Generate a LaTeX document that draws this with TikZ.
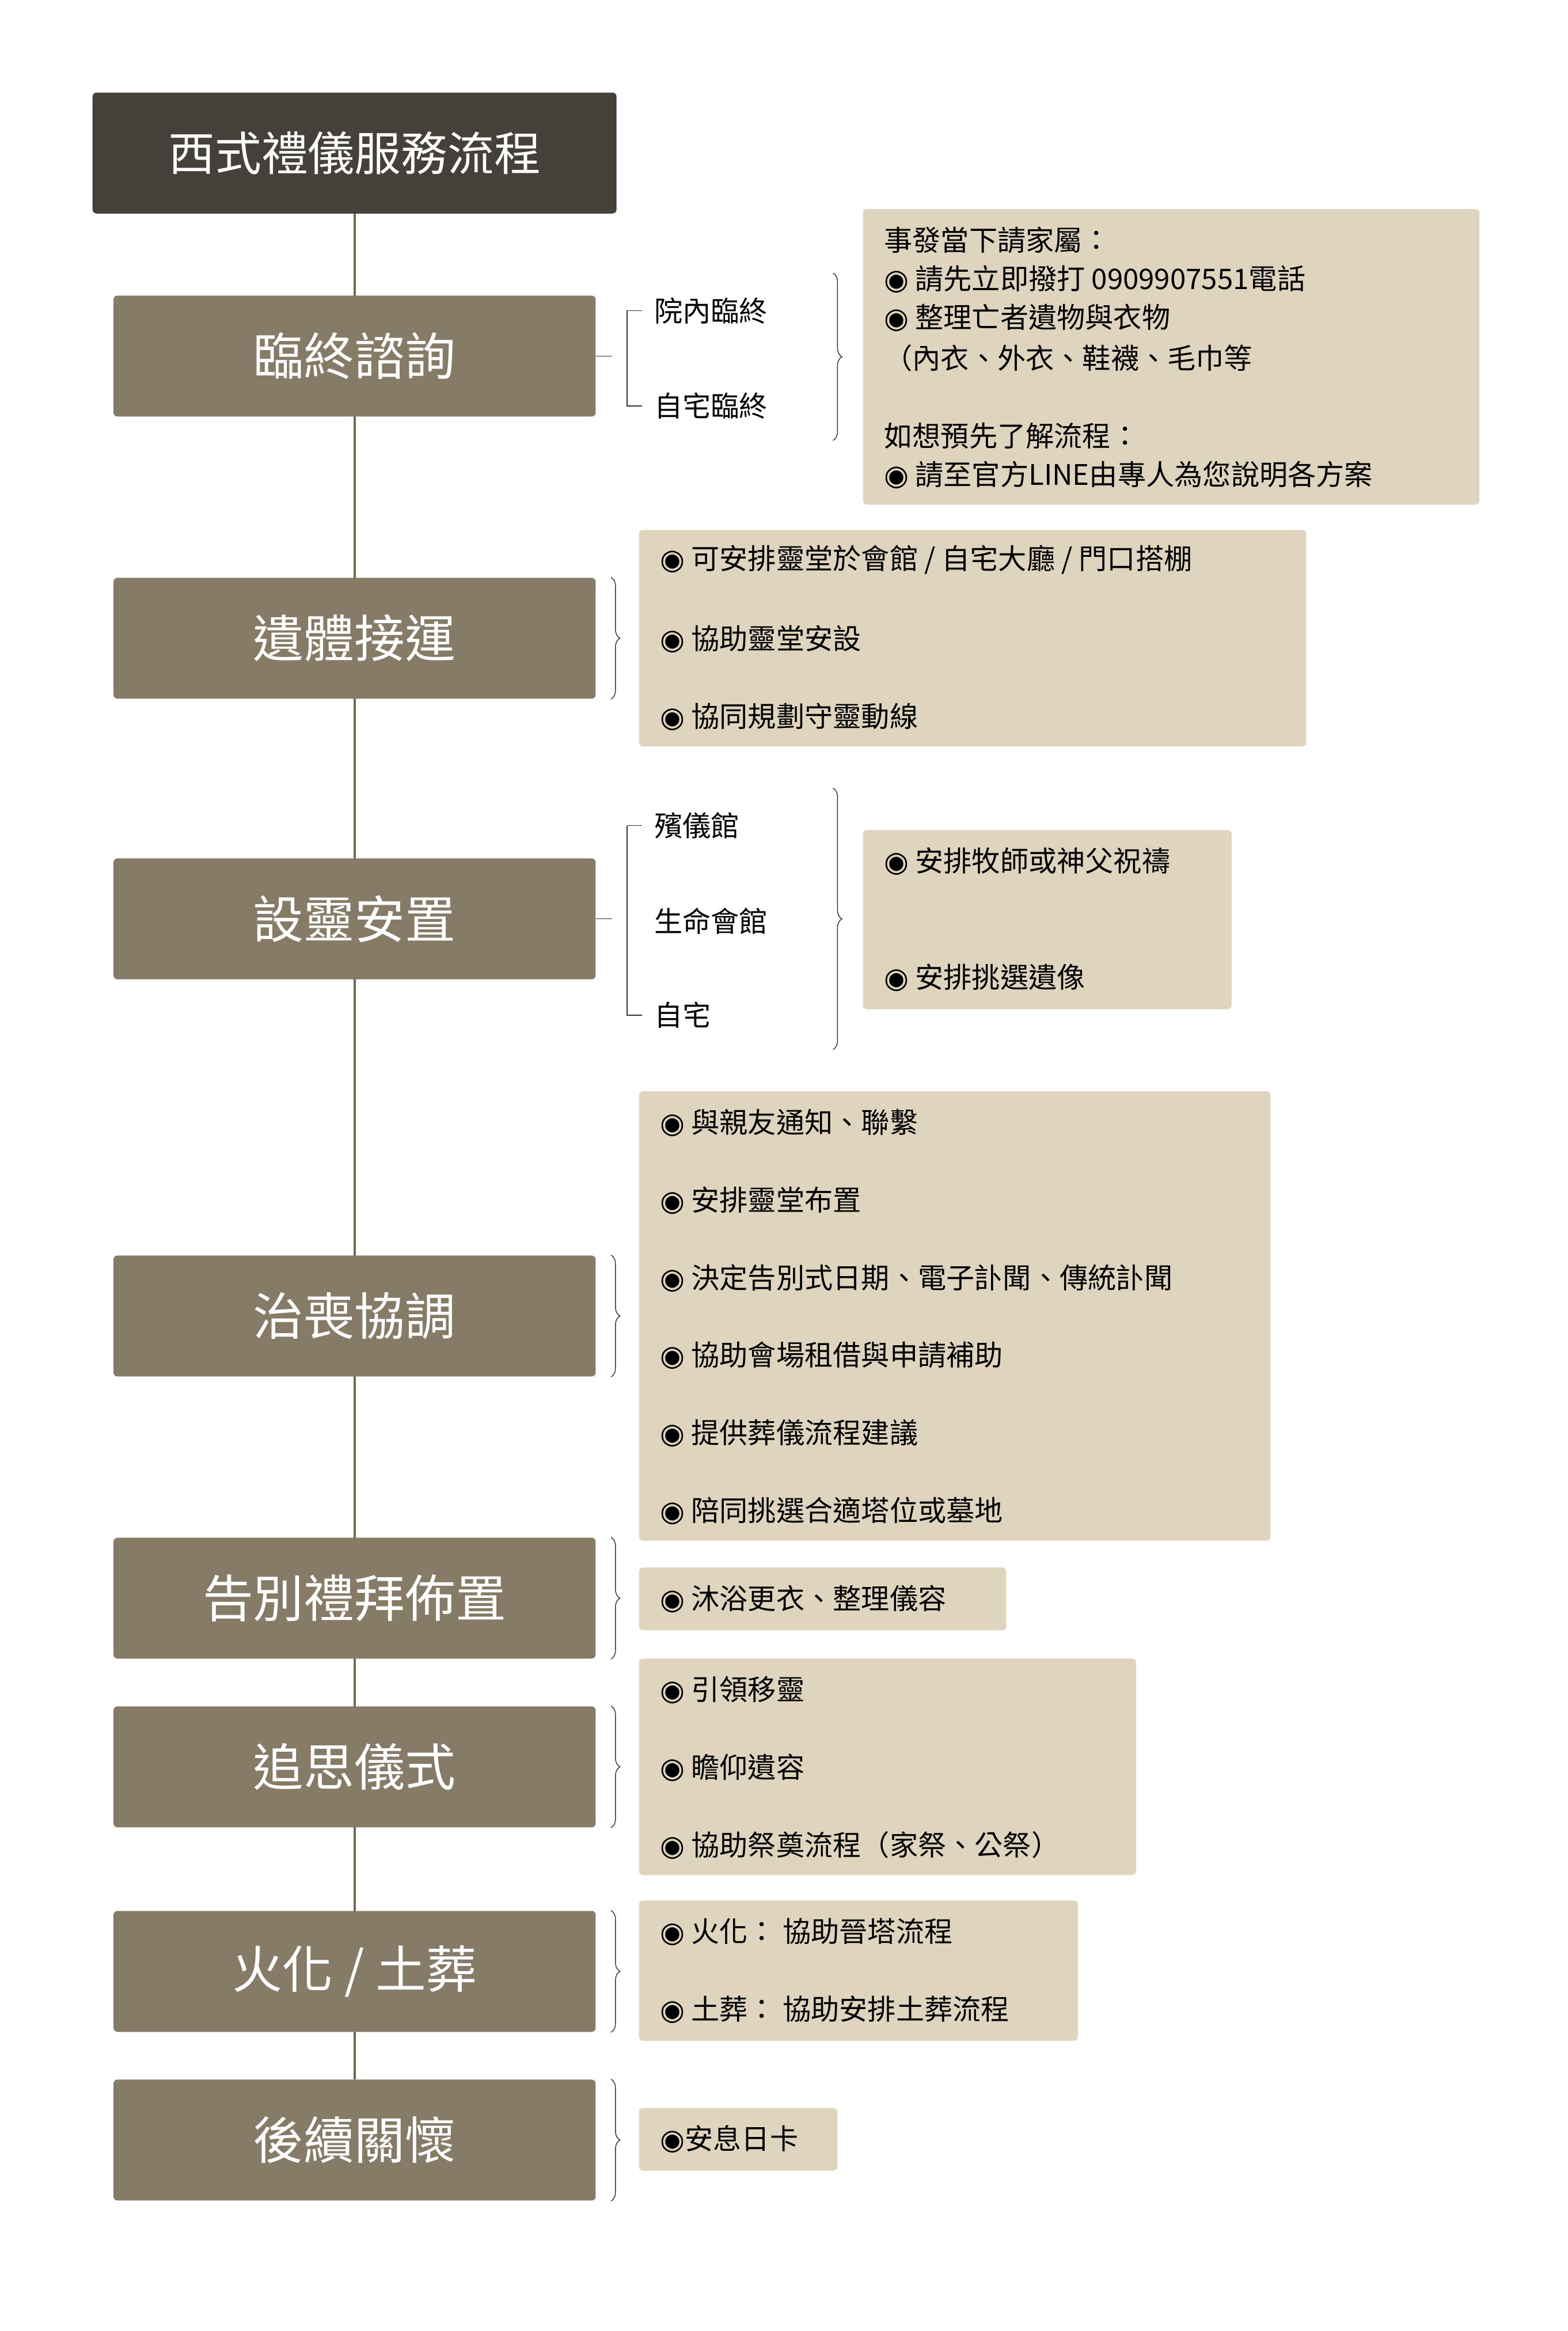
\documentclass[tikz,border=0pt]{standalone}
\usepackage{fontspec}
\setmainfont{Noto Sans CJK TC}
\newfontfamily\symfont{DejaVu Sans}
\usetikzlibrary{positioning, decorations.pathreplacing, backgrounds}
\definecolor{titlefill}{HTML}{45413A}
\definecolor{stepfill}{HTML}{857B66}
\definecolor{notefill}{HTML}{DFD5BE}
\definecolor{linegray}{HTML}{6E6657}
\newcommand{\bul}{{\symfont ◉}}

\begin{document}
\begin{tikzpicture}[x=0.025924cm, y=-0.025924cm,
    titlebox/.style={fill=titlefill, rounded corners=2pt, minimum width=351*0.025924cm,
                     minimum height=81*0.025924cm, text=white, font=\fontsize{23}{26}\selectfont},
    stepbox/.style={fill=stepfill, rounded corners=2pt, minimum width=323*0.025924cm,
                    minimum height=81*0.025924cm, text=white, font=\fontsize{25}{28}\selectfont},
    note/.style={fill=notefill, rounded corners=2pt},
    item/.style={anchor=west, inner sep=0pt, font=\fontsize{14}{17}\selectfont},
    brace/.style={draw=black!80, thin, decorate, decoration={brace, amplitude=6*0.025924cm}},
    spine/.style={draw=linegray, line width=1.2pt},
    tree/.style={draw=black!80, thin},
]
\useasboundingbox (0,0) rectangle (1050,1561.4);

% === title and steps ===
\node[titlebox] (title) at (237.5,102.5) {西式禮儀服務流程};
\node[stepbox] (s1) at (237.5,238.5)  {臨終諮詢};
\node[stepbox] (s2) at (237.5,427.5)  {遺體接運};
\node[stepbox] (s3) at (237.5,615.5)  {設靈安置};
\node[stepbox] (s4) at (237.5,881.5)  {治喪協調};
\node[stepbox] (s5) at (237.5,1070.5) {告別禮拜佈置};
\node[stepbox] (s6) at (237.5,1183.5) {追思儀式};
\node[stepbox] (s7) at (237.5,1320.5) {火化 / 土葬};
\node[stepbox] (s8) at (237.5,1433.5) {後續關懷};

\begin{scope}[on background layer]
\draw[spine] (title.south) -- (s8.north);
\end{scope}

% === (1) 臨終諮詢 ===
\node[item] (o1a) at (438,208) {院內臨終};
\node[item] (o1b) at (438,272) {自宅臨終};
\draw[tree] (s1.east) -- (410,238.5);
\draw[tree] (o1a.west) ++(-18,0) coordinate (t1a) -- ++(10,0) (t1a) -- (t1a |- o1b) -- ++(10,0);
\node[note, minimum width=413*0.025924cm, minimum height=198*0.025924cm] (d1) at (784.5,239) {};
\draw[brace] (558,183) -- (558,295);
\node[item] at (592,161) {事發當下請家屬：};
\node[item] at (592,187) {\bul\ 請先立即撥打 0909907551電話};
\node[item] at (592,213) {\bul\ 整理亡者遺物與衣物};
\node[item] at (592,240) {（內衣、外衣、鞋襪、毛巾等};
\node[item] at (592,292) {如想預先了解流程：};
\node[item] at (592,318) {\bul\ 請至官方LINE由專人為您說明各方案};

% === (2) 遺體接運 ===
\draw[brace] ([xshift=10*0.025924cm]s2.north east) -- ([xshift=10*0.025924cm]s2.south east);
\node[note, minimum width=447*0.025924cm, minimum height=145*0.025924cm] (d2) at (651.5,427.5) {};
\node[item] at (442,375) {\bul\ 可安排靈堂於會館 / 自宅大廳 / 門口搭棚};
\node[item] at (442,428) {\bul\ 協助靈堂安設};
\node[item] at (442,480) {\bul\ 協同規劃守靈動線};

% === (3) 設靈安置 ===
\node[item] (o3a) at (438,553) {殯儀館};
\node[item] (o3b) at (438,617) {生命會館};
\node[item] (o3c) at (438,680) {自宅};
\draw[tree] (s3.east) -- (410,615.5);
\draw[tree] (o3a.west) ++(-18,0) coordinate (t3a) -- ++(10,0) (t3a) -- (t3a |- o3c) -- ++(10,0);
\draw[brace] (558,528) -- (558,703);
\node[note, minimum width=247*0.025924cm, minimum height=120*0.025924cm] (d3) at (701.5,616) {};
\node[item] at (592,577) {\bul\ 安排牧師或神父祝禱};
\node[item] at (592,655) {\bul\ 安排挑選遺像};

% === (4) 治喪協調 ===
\draw[brace] ([xshift=10*0.025924cm]s4.north east) -- ([xshift=10*0.025924cm]s4.south east);
\node[note, minimum width=423*0.025924cm, minimum height=301*0.025924cm] (d4) at (639.5,881.5) {};
\node[item] at (442,752)  {\bul\ 與親友通知、聯繫};
\node[item] at (442,804)  {\bul\ 安排靈堂布置};
\node[item] at (442,856)  {\bul\ 決定告別式日期、電子訃聞、傳統訃聞};
\node[item] at (442,908)  {\bul\ 協助會場租借與申請補助};
\node[item] at (442,960)  {\bul\ 提供葬儀流程建議};
\node[item] at (442,1012) {\bul\ 陪同挑選合適塔位或墓地};

% === (5) 告別禮拜佈置 ===
\draw[brace] ([xshift=10*0.025924cm]s5.north east) -- ([xshift=10*0.025924cm]s5.south east);
\node[note, minimum width=246*0.025924cm, minimum height=42*0.025924cm] (d5) at (551,1071) {};
\node[item] at (442,1071) {\bul\ 沐浴更衣、整理儀容};

% === (6) 追思儀式 ===
\draw[brace] ([xshift=10*0.025924cm]s6.north east) -- ([xshift=10*0.025924cm]s6.south east);
\node[note, minimum width=333*0.025924cm, minimum height=145*0.025924cm] (d6) at (594.5,1183.5) {};
\node[item] at (442,1132) {\bul\ 引領移靈};
\node[item] at (442,1184) {\bul\ 瞻仰遺容};
\node[item] at (442,1236) {\bul\ 協助祭奠流程（家祭、公祭）};

% === (7) 火化 / 土葬 ===
\draw[brace] ([xshift=10*0.025924cm]s7.north east) -- ([xshift=10*0.025924cm]s7.south east);
\node[note, minimum width=294*0.025924cm, minimum height=94*0.025924cm] (d7) at (575,1320) {};
\node[item] at (442,1294) {\bul\ 火化：\ 協助晉塔流程};
\node[item] at (442,1346) {\bul\ 土葬：\ 協助安排土葬流程};

% === (8) 後續關懷 ===
\draw[brace] ([xshift=10*0.025924cm]s8.north east) -- ([xshift=10*0.025924cm]s8.south east);
\node[note, minimum width=133*0.025924cm, minimum height=42*0.025924cm] (d8) at (494.5,1433) {};
\node[item] at (442,1433) {\bul 安息日卡};

\end{tikzpicture}
\end{document}
